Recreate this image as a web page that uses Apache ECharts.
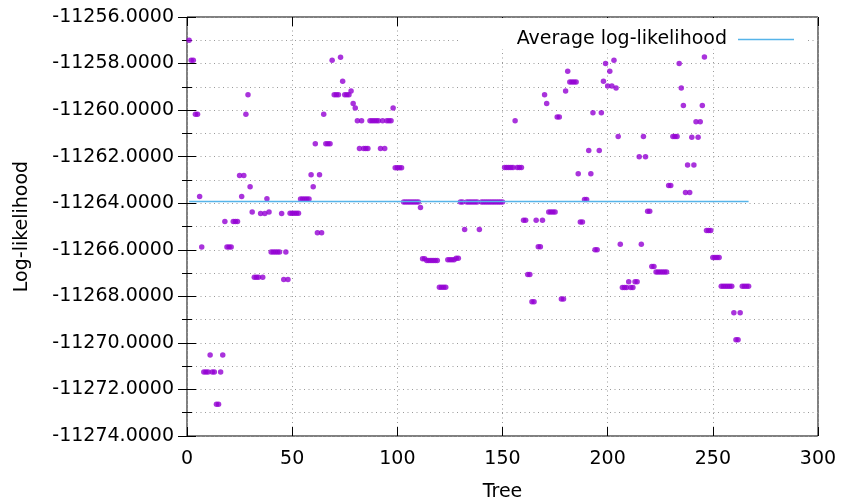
<!DOCTYPE html>
<html>
<head>
<meta charset="utf-8">
<script src="https://cdn.jsdelivr.net/npm/echarts/dist/echarts.min.js"></script>
<style>
html, body { margin: 0; padding: 0; background: #fff; }
#chart { width: 842px; height: 504px; }
</style>
</head>
<body>
<div id="chart"></div>
<script>
// log-likelihood of each tree, trees numbered from 1
var logLik = [
    -11257.00, -11257.86, -11257.86, -11260.18, -11260.18, -11263.71, -11265.88, -11271.25, -11271.25, -11271.25,
    -11270.52, -11271.25, -11271.25, -11272.64, -11272.64, -11271.25, -11270.52, -11264.78, -11265.88, -11265.88,
    -11265.88, -11264.78, -11264.78, -11264.78, -11262.81, -11263.71, -11262.81, -11260.18, -11259.34, -11263.29,
    -11264.38, -11267.18, -11267.18, -11267.18, -11264.44, -11267.18, -11264.44, -11263.81, -11264.38, -11266.10,
    -11266.10, -11266.10, -11266.10, -11266.10, -11264.44, -11267.28, -11266.10, -11267.28, -11264.43, -11264.43,
    -11264.43, -11264.43, -11264.43, -11263.82, -11263.82, -11263.82, -11263.82, -11263.82, -11262.78, -11263.29,
    -11261.44, -11265.27, -11262.78, -11265.27, -11260.18, -11261.44, -11261.44, -11261.44, -11257.86, -11259.34,
    -11259.34, -11259.34, -11257.73, -11258.76, -11259.34, -11259.34, -11259.34, -11259.18, -11259.72, -11259.91,
    -11260.46, -11261.65, -11260.46, -11261.65, -11261.65, -11261.65, -11260.46, -11260.46, -11260.46, -11260.46,
    -11260.46, -11261.65, -11260.46, -11261.65, -11260.46, -11260.46, -11260.46, -11259.91, -11262.48, -11262.48,
    -11262.48, -11262.48, -11263.95, -11263.95, -11263.95, -11263.95, -11263.95, -11263.95, -11263.95, -11263.95,
    -11264.18, -11266.39, -11266.39, -11266.46, -11266.46, -11266.46, -11266.46, -11266.46, -11266.46, -11267.61,
    -11267.61, -11267.61, -11267.61, -11266.43, -11266.43, -11266.43, -11266.43, -11266.36, -11266.36, -11263.95,
    -11263.95, -11265.13, -11263.95, -11263.95, -11263.95, -11263.95, -11263.95, -11263.95, -11265.13, -11263.95,
    -11263.95, -11263.95, -11263.95, -11263.95, -11263.95, -11263.95, -11263.95, -11263.95, -11263.95, -11263.95,
    -11262.47, -11262.47, -11262.47, -11262.47, -11262.47, -11260.46, -11262.47, -11262.47, -11262.47, -11264.73,
    -11264.73, -11267.06, -11267.06, -11268.23, -11268.23, -11264.73, -11265.87, -11265.87, -11264.73, -11259.34,
    -11259.72, -11264.38, -11264.38, -11264.38, -11264.38, -11260.30, -11260.30, -11268.11, -11268.11, -11259.18,
    -11258.33, -11258.79, -11258.79, -11258.79, -11258.79, -11262.73, -11264.81, -11264.81, -11263.84, -11263.84,
    -11261.73, -11262.73, -11260.11, -11266.00, -11266.00, -11261.73, -11260.11, -11258.76, -11258.00, -11258.96,
    -11258.33, -11258.96, -11257.86, -11259.05, -11261.13, -11265.76, -11267.62, -11267.62, -11267.62, -11267.37,
    -11267.62, -11267.62, -11267.37, -11267.37, -11262.00, -11265.76, -11261.13, -11262.00, -11264.35, -11264.35,
    -11266.72, -11266.72, -11266.95, -11266.95, -11266.95, -11266.95, -11266.95, -11266.95, -11263.24, -11263.24,
    -11261.13, -11261.13, -11261.13, -11258.00, -11259.05, -11259.80, -11263.54, -11262.36, -11263.54, -11261.17,
    -11262.36, -11260.50, -11261.17, -11260.50, -11259.80, -11257.72, -11265.17, -11265.17, -11265.17, -11266.33,
    -11266.33, -11266.33, -11266.33, -11267.57, -11267.57, -11267.57, -11267.57, -11267.57, -11267.57, -11268.71,
    -11269.86, -11269.86, -11268.71, -11267.57, -11267.57, -11267.57, -11267.57
];
var firstTree = 1;
var avgLogLik = -11263.93;
var avgLabel = 'Average log-likelihood';
var xRange = [0, 300];
var yRange = [-11274, -11256];

var points = logLik.map(function (v, i) { return [firstTree + i, v]; });
var lastTree = firstTree + logLik.length - 1;
var avgLine = [[firstTree, avgLogLik], [lastTree, avgLogLik]];

var font = 'DejaVu Sans';
var gridDots = { color: '#9a9a9a', width: 1, type: [1, 3.5] };

var chart = echarts.init(document.getElementById('chart'));
chart.setOption({
    animation: false,
    backgroundColor: '#fff',
    grid: {
        left: 187, right: 24, top: 17, bottom: 68,
        outerBoundsMode: 'none',
        show: true, borderColor: '#000', borderWidth: 1
    },
    legend: {
        data: [{ name: avgLabel, icon: 'rect' }],
        right: 36, top: 18,
        align: 'right',
        itemWidth: 56, itemHeight: 1.5,
        padding: [12, 12, 0, 57],
        backgroundColor: '#fff',
        textStyle: { fontFamily: font, fontSize: 19, color: '#000', padding: [0, 6, 0, 0] }
    },
    xAxis: [{
        type: 'value', min: xRange[0], max: xRange[1], interval: 50,
        name: 'Tree', nameLocation: 'middle', nameGap: 47,
        nameTextStyle: { fontFamily: font, fontSize: 19, color: '#000' },
        axisLine: { show: false },
        axisTick: { inside: true, length: 9, lineStyle: { color: '#000' } },
        axisLabel: { fontFamily: font, fontSize: 19, color: '#000', margin: 14 },
        splitLine: { lineStyle: gridDots }
    }, {
        type: 'value', position: 'top', min: xRange[0], max: xRange[1], interval: 50,
        axisLine: { show: false },
        axisTick: { inside: true, length: 9, lineStyle: { color: '#000' } },
        axisLabel: { show: false },
        splitLine: { show: false }
    }],
    yAxis: [{
        type: 'value', min: yRange[0], max: yRange[1], interval: 2,
        name: 'Log-likelihood', nameLocation: 'middle', nameGap: 155, nameRotate: 90,
        nameTextStyle: { fontFamily: font, fontSize: 19, color: '#000' },
        axisLine: { show: false },
        axisTick: { inside: true, length: 9, lineStyle: { color: '#000' } },
        minorTick: { show: true, splitNumber: 2, length: 5, lineStyle: { color: '#000' } },
        axisLabel: {
            fontFamily: font, fontSize: 19, color: '#000', margin: 13,
            formatter: function (v) { return v.toFixed(4); }
        },
        splitLine: { lineStyle: gridDots },
        minorSplitLine: { show: true, lineStyle: gridDots }
    }, {
        type: 'value', position: 'right', min: yRange[0], max: yRange[1], interval: 2,
        axisLine: { show: false },
        axisTick: { inside: true, length: 9, lineStyle: { color: '#000' } },
        minorTick: { show: true, splitNumber: 2, length: 5, lineStyle: { color: '#000' } },
        axisLabel: { show: false },
        splitLine: { show: false }
    }],
    series: [{
        type: 'scatter',
        name: 'trees',
        data: points,
        symbolSize: 5.5,
        itemStyle: { color: '#9400d3' },
        z: 2
    }, {
        type: 'line',
        name: avgLabel,
        data: avgLine,
        showSymbol: false,
        lineStyle: { color: '#56b4e9', width: 1.5 },
        itemStyle: { color: '#56b4e9' },
        z: 3
    }]
});
</script>
</body>
</html>
